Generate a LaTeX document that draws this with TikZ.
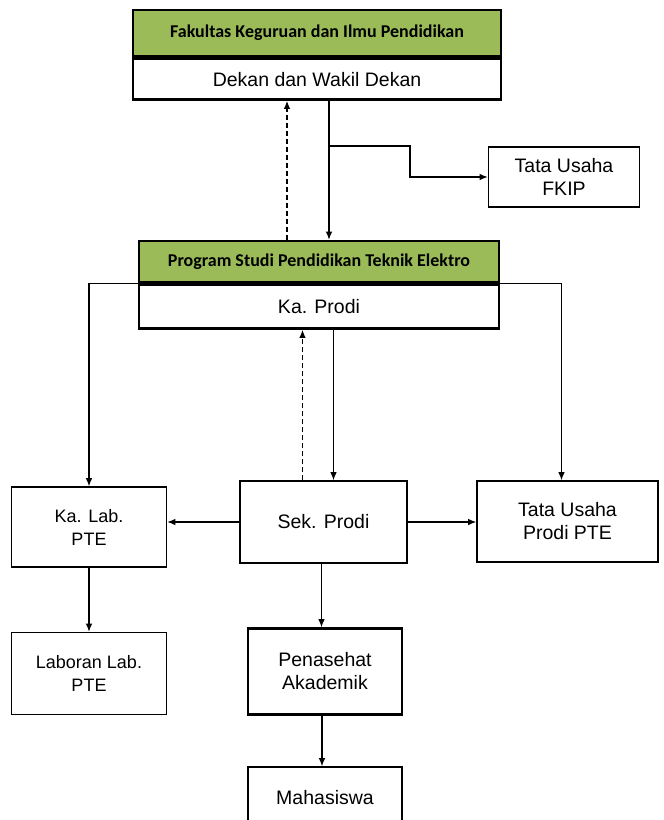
\documentclass[tikz,border=0pt]{standalone}
\usepackage{fontspec}
\setmainfont{Liberation Sans}
\newfontfamily\judulfont{Carlito}
\usepackage{tikz}
\usetikzlibrary{positioning, calc, arrows.meta}
\definecolor{hijau}{RGB}{155,187,89}

\begin{document}
\begin{tikzpicture}[x=1pt, y=-1pt,
    >={Latex[length=8pt,width=6.5pt]},
    kotak/.style={draw, line width=1.6pt, align=center, inner sep=0pt, font=\fontsize{19.5}{23}\selectfont},
    kotaktebal/.style={kotak, line width=2.6pt},
    kotakkecil/.style={kotak, font=\fontsize{18}{23}\selectfont},
    judul/.style={draw, line width=2.6pt, fill=hijau, inner sep=0pt, font=\judulfont\bfseries\fontsize{18}{21}\selectfont},
    garis/.style={line width=1.1pt},
    putus/.style={garis, dash pattern=on 5pt off 3pt}]
      \useasboundingbox (0,0) rectangle (664,820);
      \clip (0,0) rectangle (664,820);

      % fakultas
      \node[judul, minimum width=368pt, minimum height=46pt] (fkip) at (317,33) {Fakultas Keguruan dan Ilmu Pendidikan};
      \node[kotaktebal, minimum width=368pt, minimum height=41pt, below=0pt of fkip] (dekan) {Dekan dan Wakil Dekan};
      \node[kotak, minimum width=151pt, minimum height=60pt] (tufkip) at (564,177) {Tata Usaha\\FKIP};

      % prodi
      \node[judul, minimum width=360pt, minimum height=41pt] (prodi) at (319,261.5) {Program Studi Pendidikan Teknik Elektro};
      \node[kotaktebal, minimum width=360pt, minimum height=44pt, below=0pt of prodi] (kaprodi) {Ka. Prodi};

      % baris tengah
      \node[kotakkecil, minimum width=155pt, minimum height=80pt] (kalab) at (89,527) {Ka. Lab.\\PTE};
      \node[kotak, minimum width=167pt, minimum height=82pt] (sek) at (323.5,522) {Sek. Prodi};
      \node[kotak, minimum width=181pt, minimum height=81pt] (tuprodi) at (567.5,521.5) {Tata Usaha\\Prodi PTE};

      % baris bawah
      \node[kotakkecil, minimum width=155pt, minimum height=82pt] (laboran) at (89,673.5) {Laboran Lab.\\PTE};
      \node[kotaktebal, minimum width=154pt, minimum height=86pt] (pa) at (325,671.5) {Penasehat\\Akademik};
      \node[kotak, minimum width=154pt, minimum height=62pt] (mhs) at (325,798) {Mahasiswa};

      % garis
      \draw[putus, ->] ([xshift=-32pt]prodi.north) -- ([xshift=-32pt]prodi.north |- dekan.south);
      \draw[garis, ->] ([xshift=12pt]dekan.south) -- ([xshift=12pt]dekan.south |- prodi.north);
      \coordinate (cabang) at (329,146);
      \draw[garis, ->] (cabang) -- (410,146) |- (tufkip.west);

      \draw[garis, ->] (prodi.south west) -| (kalab.north);
      \draw[garis, ->] (prodi.south east) -| ([xshift=-6pt]tuprodi.north);
      \draw[putus, ->] ([xshift=-21pt]sek.north) -- ([xshift=-21pt]sek.north |- kaprodi.south);
      \draw[garis, ->] ([xshift=10pt]sek.north |- kaprodi.south) -- ([xshift=10pt]sek.north);
      \draw[garis, ->] (sek.west) -- (sek.west -| kalab.east);
      \draw[garis, ->] (sek.east) -- (sek.east -| tuprodi.west);
      \draw[garis, ->] (kalab) -- (laboran);
      \draw[garis, ->] ([xshift=-2pt]sek.south) -- ([xshift=-2pt]sek.south |- pa.north);
      \draw[garis, ->] ([xshift=-3pt]pa.south) -- ([xshift=-3pt]pa.south |- mhs.north);
\end{tikzpicture}
\end{document}
